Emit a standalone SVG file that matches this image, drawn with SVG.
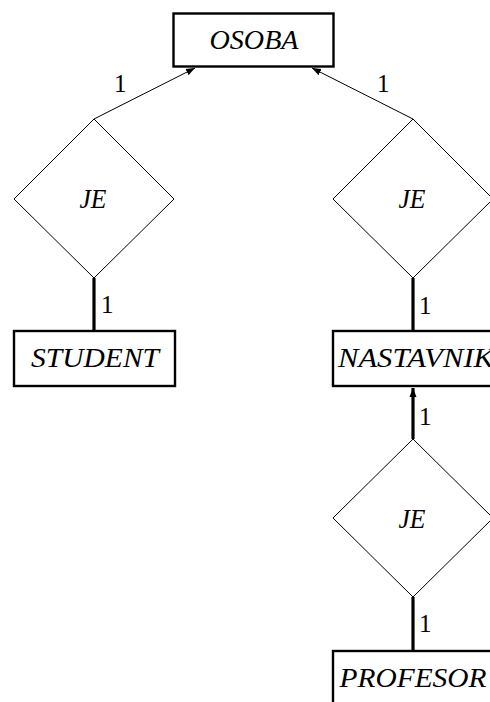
<svg xmlns="http://www.w3.org/2000/svg" width="490" height="702" viewBox="0 0 490 702">
<style>
.ent{fill:#fff;stroke:#000;stroke-width:2.4}
.rel{fill:#fff;stroke:#000;stroke-width:1}
.lbl{font-family:'Liberation Serif','DejaVu Serif',serif;font-style:italic;font-size:27px;fill:#000;text-anchor:middle}
.card{font-family:'Liberation Serif','DejaVu Serif',serif;font-size:25px;fill:#000}
.thin{stroke:#000;stroke-width:1;fill:none}
.thick{stroke:#000;stroke-width:3.2;fill:none}
</style>
<defs>
<marker id="ah" markerUnits="userSpaceOnUse" markerWidth="10" markerHeight="8" refX="9" refY="4" orient="auto">
<path d="M0,0.5 L9,4 L0,7.5 Z" fill="#000"/>
</marker>
</defs>
<rect width="490" height="702" fill="#fff"/>
<g id="connectors">
<line class="thin" x1="94" y1="119" x2="195" y2="68" marker-end="url(#ah)"/>
<line class="thin" x1="413" y1="119" x2="312" y2="68" marker-end="url(#ah)"/>
<line class="thick" x1="94" y1="278" x2="94" y2="331"/>
<line class="thick" x1="413" y1="278" x2="413" y2="331"/>
<line class="thick" x1="413" y1="439" x2="413" y2="388" marker-end="url(#ah)"/>
<line class="thick" x1="413" y1="597" x2="413" y2="651"/>
<text class="card" x="114" y="92">1</text>
<text class="card" x="377" y="92">1</text>
<text class="card" x="101" y="313">1</text>
<text class="card" x="419" y="314">1</text>
<text class="card" x="419" y="425">1</text>
<text class="card" x="419" y="632">1</text>
</g>
<g id="osoba">
<rect class="ent" x="173.5" y="13.5" width="160" height="53"/>
<text class="lbl" x="254" y="49" textLength="89" lengthAdjust="spacingAndGlyphs">OSOBA</text>
</g>
<g id="je1">
<polygon class="rel" points="94,119 174,199 94,278 14,199"/>
<text class="lbl" x="93" y="208" textLength="27" lengthAdjust="spacingAndGlyphs">JE</text>
</g>
<g id="je2">
<polygon class="rel" points="413,119 493,199 413,278 333,199"/>
<text class="lbl" x="412" y="208" textLength="27" lengthAdjust="spacingAndGlyphs">JE</text>
</g>
<g id="student">
<rect class="ent" x="14" y="331" width="161" height="55"/>
<text class="lbl" x="95" y="367" textLength="128" lengthAdjust="spacingAndGlyphs">STUDENT</text>
</g>
<g id="nastavnik">
<rect class="ent" x="333" y="331" width="161" height="55"/>
<text class="lbl" x="416" y="367" textLength="156" lengthAdjust="spacingAndGlyphs">NASTAVNIK</text>
</g>
<g id="je3">
<polygon class="rel" points="413,439 493,518 413,597 333,518"/>
<text class="lbl" x="412" y="528" textLength="27" lengthAdjust="spacingAndGlyphs">JE</text>
</g>
<g id="profesor">
<rect class="ent" x="333" y="651" width="161" height="55"/>
<text class="lbl" x="413" y="687" textLength="147" lengthAdjust="spacingAndGlyphs">PROFESOR</text>
</g>
</svg>
